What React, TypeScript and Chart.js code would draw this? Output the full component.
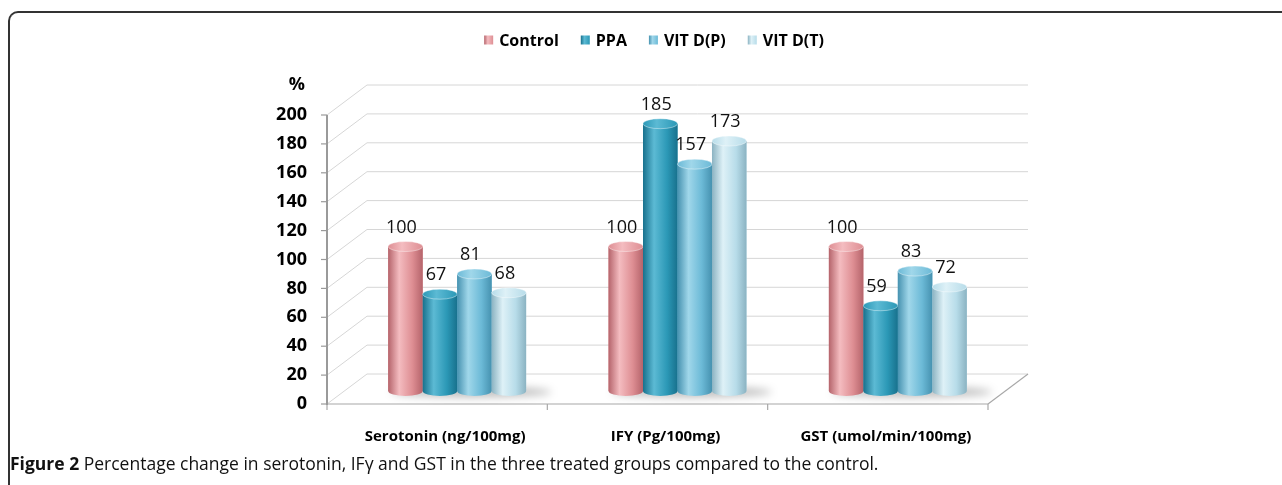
import React, { useEffect, useRef } from 'react';
import { Chart, registerables } from 'chart.js';

Chart.register(...registerables);

const categories = ['Serotonin (ng/100mg)', 'IFY (Pg/100mg)', 'GST (umol/min/100mg)'];
const seriesNames = ['Control', 'PPA', 'VIT D(P)', 'VIT D(T)'];
const controlValues = [100, 100, 100];
const ppaValues = [67, 185, 59];
const vitDPValues = [81, 157, 83];
const vitDTValues = [68, 173, 72];
const yMin = 0;
const yMax = 200;
const yStep = 20;
const yTitle = '%';

const baseColors = ['#de8e93', '#2b98b6', '#6cbad7', '#b7dce9'];
const lightColors = ['#f4bcc0', '#5cbad4', '#a0d7ea', '#def1f7'];
const darkColors = ['#b5646b', '#18718d', '#4692b0', '#8bb3c2'];

const FRONT_DX = -20;
const FRONT_DY = 13;
const BACK_DX = 20;
const BACK_DY = -17;

const frame3d = {
  id: 'frame3d',
  beforeDatasetsDraw(chart: any) {
    const { ctx, chartArea } = chart;
    const { left, right } = chartArea;
    const y = chart.scales.y;
    const x = chart.scales.x;
    const fl = left + FRONT_DX;
    const fr = right + FRONT_DX;
    const bl = left + BACK_DX;
    const br = right + BACK_DX;
    const line = (x1: number, y1: number, x2: number, y2: number) => {
      ctx.beginPath();
      ctx.moveTo(x1, y1);
      ctx.lineTo(x2, y2);
      ctx.stroke();
    };
    ctx.save();
    ctx.lineWidth = 1;
    ctx.strokeStyle = '#d6d6d6';
    y.ticks.forEach((t: any) => {
      const py = y.getPixelForValue(t.value);
      line(fl, py + FRONT_DY, bl, py + BACK_DY);
      line(bl, py + BACK_DY, br, py + BACK_DY);
    });
    const y0 = y.getPixelForValue(yMin);
    const yTop = y.getPixelForValue(yMax);
    ctx.strokeStyle = '#a8a8a8';
    ctx.lineWidth = 1.2;
    line(fr, y0 + FRONT_DY, br, y0 + BACK_DY);
    line(fl, y0 + FRONT_DY, fr, y0 + FRONT_DY);
    const n = categories.length;
    for (let k = 0; k <= n; k++) {
      const bx = left + (k * (right - left)) / n + FRONT_DX;
      line(bx, y0 + FRONT_DY, bx, y0 + FRONT_DY + 6);
    }
    ctx.strokeStyle = '#9a9a9a';
    ctx.lineWidth = 2;
    line(fl, y0 + FRONT_DY + 1, fl, yTop + FRONT_DY);
    ctx.lineWidth = 1.2;
    y.ticks.forEach((t: any) => {
      const py = y.getPixelForValue(t.value) + FRONT_DY;
      line(fl - 6, py, fl, py);
    });
    ctx.filter = 'blur(4px)';
    ctx.fillStyle = 'rgba(0,0,0,0.28)';
    categories.forEach((_, i) => {
      const cx = x.getPixelForValue(i);
      ctx.beginPath();
      ctx.ellipse(cx + 14, y0 + 1, 80, 5, 0, 0, Math.PI * 2);
      ctx.fill();
    });
    ctx.filter = 'none';
    ctx.restore();
  },
  afterDatasetsDraw(chart: any) {
    const { ctx } = chart;
    ctx.save();
    chart.data.datasets.forEach((ds: any, d: number) => {
      const meta = chart.getDatasetMeta(d);
      meta.data.forEach((bar: any, i: number) => {
        const p = bar.getProps(['x', 'y', 'base', 'width'], true);
        const hx = p.width / 2;
        const ry = 5;
        const g = ctx.createLinearGradient(p.x - hx, 0, p.x + hx, 0);
        g.addColorStop(0, darkColors[d]);
        g.addColorStop(0.32, lightColors[d]);
        g.addColorStop(0.7, baseColors[d]);
        g.addColorStop(1, darkColors[d]);
        ctx.fillStyle = g;
        ctx.beginPath();
        ctx.moveTo(p.x - hx, p.y);
        ctx.lineTo(p.x - hx, p.base);
        ctx.ellipse(p.x, p.base, hx, ry, 0, Math.PI, 0, true);
        ctx.lineTo(p.x + hx, p.y);
        ctx.closePath();
        ctx.fill();
        const gt = ctx.createLinearGradient(p.x - hx, 0, p.x + hx, 0);
        gt.addColorStop(0, baseColors[d]);
        gt.addColorStop(0.4, lightColors[d]);
        gt.addColorStop(1, baseColors[d]);
        ctx.fillStyle = gt;
        ctx.beginPath();
        ctx.ellipse(p.x, p.y, hx, ry, 0, 0, Math.PI * 2);
        ctx.fill();
        ctx.strokeStyle = 'rgba(255,255,255,0.5)';
        ctx.lineWidth = 0.8;
        ctx.stroke();
        ctx.fillStyle = '#111';
        ctx.font = '500 18px "Open Sans"';
        ctx.textAlign = 'center';
        ctx.textBaseline = 'middle';
        ctx.fillText(String(ds.data[i]), p.x - 4, p.y - 19);
      });
    });
    ctx.restore();
  },
  afterDraw(chart: any) {
    const { ctx, chartArea } = chart;
    ctx.save();
    ctx.font = 'bold 18px "Open Sans"';
    ctx.fillStyle = '#000';
    ctx.textAlign = 'right';
    ctx.textBaseline = 'middle';
    ctx.fillText(yTitle, chartArea.left - 42, chartArea.top - 17);
    ctx.font = 'bold 16px "Open Sans"';
    const box = 9;
    const gap = 6;
    const itemGap = 22;
    const widths = chart.data.datasets.map((ds: any) => box + gap + ctx.measureText(ds.label).width);
    const total = widths.reduce((a: number, b: number) => a + b, 0) + itemGap * (widths.length - 1);
    let cx = chart.width / 2 - total / 2;
    const cy = 26;
    ctx.textAlign = 'left';
    chart.data.datasets.forEach((ds: any, d: number) => {
      const g = ctx.createLinearGradient(cx, 0, cx + box, 0);
      g.addColorStop(0, darkColors[d]);
      g.addColorStop(0.4, lightColors[d]);
      g.addColorStop(1, baseColors[d]);
      ctx.fillStyle = g;
      ctx.fillRect(cx, cy - box / 2, box, box);
      ctx.fillStyle = '#000';
      ctx.fillText(ds.label, cx + box + gap, cy + 1);
      cx += widths[d] + itemGap;
    });
    ctx.restore();
  },
};

export default function App() {
  const ref = useRef<HTMLCanvasElement>(null);
  useEffect(() => {
    if (!ref.current) return;
    const seriesValues = [controlValues, ppaValues, vitDPValues, vitDTValues];
    const chart = new Chart(ref.current, {
      type: 'bar',
      data: {
        labels: categories,
        datasets: seriesNames.map((name, d) => ({
          label: name,
          data: seriesValues[d],
          backgroundColor: baseColors[d],
          borderWidth: 0,
          categoryPercentage: 0.626,
          barPercentage: 1,
        })),
      },
      options: {
        responsive: false,
        animation: false,
        layout: { padding: { top: 88, right: 40, left: 0, bottom: 0 } },
        plugins: {
          legend: { display: false },
          tooltip: { enabled: false },
        },
        scales: {
          x: {
            grid: { display: false, drawTicks: false },
            border: { display: false },
            ticks: {
              font: { family: '"Open Sans"', size: 15, weight: 'bold' },
              color: '#000',
              padding: 37,
              labelOffset: -12,
              maxRotation: 0,
              autoSkip: false,
            },
            afterFit: (scale: any) => {
              scale.height = 63;
            },
          },
          y: {
            min: yMin,
            max: yMax,
            grid: { display: false, drawTicks: false },
            border: { display: false },
            ticks: {
              stepSize: yStep,
              font: { family: '"Open Sans"', size: 18, weight: 'bold' },
              color: '#000',
              padding: 40,
              labelOffset: FRONT_DY,
            },
            afterFit: (scale: any) => {
              scale.width = 87;
            },
          },
        },
      },
      plugins: [frame3d],
    } as any);
    return () => chart.destroy();
  }, []);

  return (
    <div
      style={{
        position: 'fixed',
        left: 0,
        top: 0,
        width: 1282,
        height: 485,
        background: '#fff',
        overflow: 'hidden',
      }}
    >
      <div
        style={{
          position: 'absolute',
          left: 8,
          top: 11,
          width: 1290,
          height: 500,
          borderTop: '2px solid #333',
          borderLeft: '2px solid #333',
          borderTopLeftRadius: 10,
          boxSizing: 'border-box',
        }}
      />
      <canvas
        ref={ref}
        width={788}
        height={440}
        style={{ position: 'absolute', left: 260, top: 14, width: 788, height: 440 }}
      />
      <div
        style={{
          position: 'absolute',
          left: 10,
          top: 451,
          fontFamily: '"Open Sans"',
          fontSize: 17.5,
          lineHeight: '24px',
          color: '#111',
          whiteSpace: 'nowrap',
        }}
      >
        <b>Figure 2</b> Percentage change in serotonin, IFγ and GST in the three treated groups compared to the control.
      </div>
    </div>
  );
}
